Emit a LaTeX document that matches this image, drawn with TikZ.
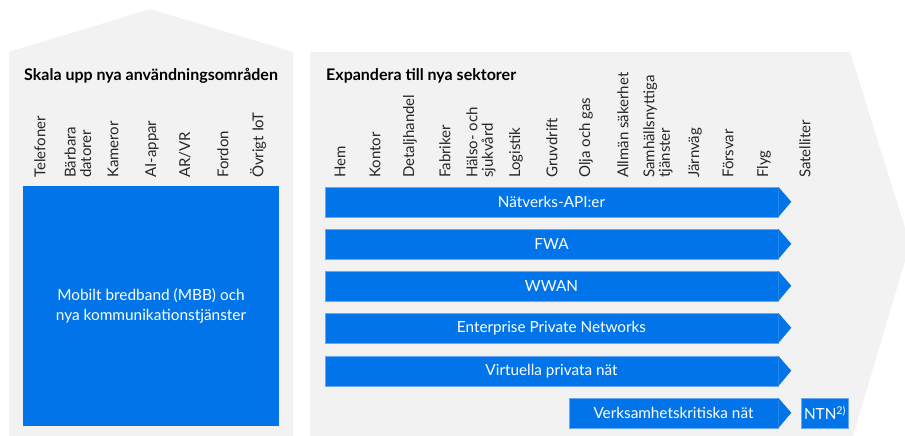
\documentclass[tikz,border=0pt]{standalone}
\usepackage{fontspec}
\setmainfont{Lato}
\usetikzlibrary{positioning}

\definecolor{panelgrey}{RGB}{242,242,242}
\definecolor{ericblue}{RGB}{0,116,232}
\definecolor{edgeblue}{RGB}{105,168,240}

\tikzset{
	panel/.style={fill=panelgrey},
	heading/.style={anchor=base west, inner sep=0pt, font=\fontsize{16}{18}\selectfont\bfseries},
	sector/.style={rotate=90, anchor=west, inner sep=0pt, align=left, text=black!85, font=\fontsize{15}{15.5}\selectfont},
	bar/.style={fill=ericblue, draw=edgeblue, line width=0.5pt, text=white, minimum height=30pt, inner sep=0pt, font=\fontsize{15.3}{18}\selectfont},
	tip/.style={fill=ericblue},
}

\begin{document}
\begin{tikzpicture}[x=1pt,y=-1pt]

\path [use as bounding box] (0,0) rectangle (905,436);

% PANELS
\fill [panel] (9,436) -- (9,52) -- (150,9) -- (293,52) -- (293,436) -- cycle;
\fill [panel] (310,436) -- (310,52) -- (850,52) -- (905,228) -- (905,261) -- (853,436) -- cycle;

% HEADINGS
\node [heading] (scaleup) at (24,81) {Skala upp nya användningsområden};
\node [heading] (expand) at (326,81) {Expandera till nya sektorer};

% USE CASES
\foreach \x/\name/\txt in {40/phones/Telefoner, 78/laptops/Bärbara\\datorer, 113/cameras/Kameror,
	152/aiapps/AI-appar, 185/arvr/{AR/VR}, 223/vehicles/Fordon, 258/iot/Övrigt IoT}
	\node [sector] (\name) at (\x,178) {\txt};

% SECTORS
\foreach \x/\name/\txt in {340/home/Hem, 375/office/Kontor, 410/retail/Detaljhandel, 445/factory/Fabriker,
	481/health/Hälso- och\\sjukvård, 516/logistics/Logistik, 552/mining/Gruvdrift, 586/oilgas/Olja och gas,
	623/safety/Allmän säkerhet, 658/utility/Samhällsnyttiga\\tjänster, 695/rail/Järnväg, 728/defence/Försvar,
	764/flight/Flyg, 805/satellite/Satelliter}
	\node [sector] (\name) at (\x,178) {\txt};

% MBB BOX
\node [fill=ericblue, text=white, minimum width=256pt, minimum height=240pt, align=center,
	font=\fontsize{15.4}{19.6}\selectfont] (mbb) at (151,306) {Mobilt bredband (MBB) och\\nya kommunikationstjänster};

% BARS
\foreach \y/\name/\txt in {202/api/Nätverks-API:er, 244/fwa/FWA, 286/wwan/WWAN,
	328/epn/Enterprise Private Networks, 371/vpn/Virtuella privata nät} {
	\node [bar, minimum width=453pt] (\name) at (551.5,\y) {\txt};
	\fill [tip] (\name.north east) -- ++(13,15) -- (\name.south east) -- cycle;
}
\node [bar, minimum width=209pt] (critical) at (673.5,413) {Verksamhetskritiska nät};
\fill [tip] (critical.north east) -- ++(13,15) -- (critical.south east) -- cycle;
\node [bar, minimum width=47pt, right=23pt of critical] (ntn) {NTN\textsuperscript{2)}};

\end{tikzpicture}
\end{document}
